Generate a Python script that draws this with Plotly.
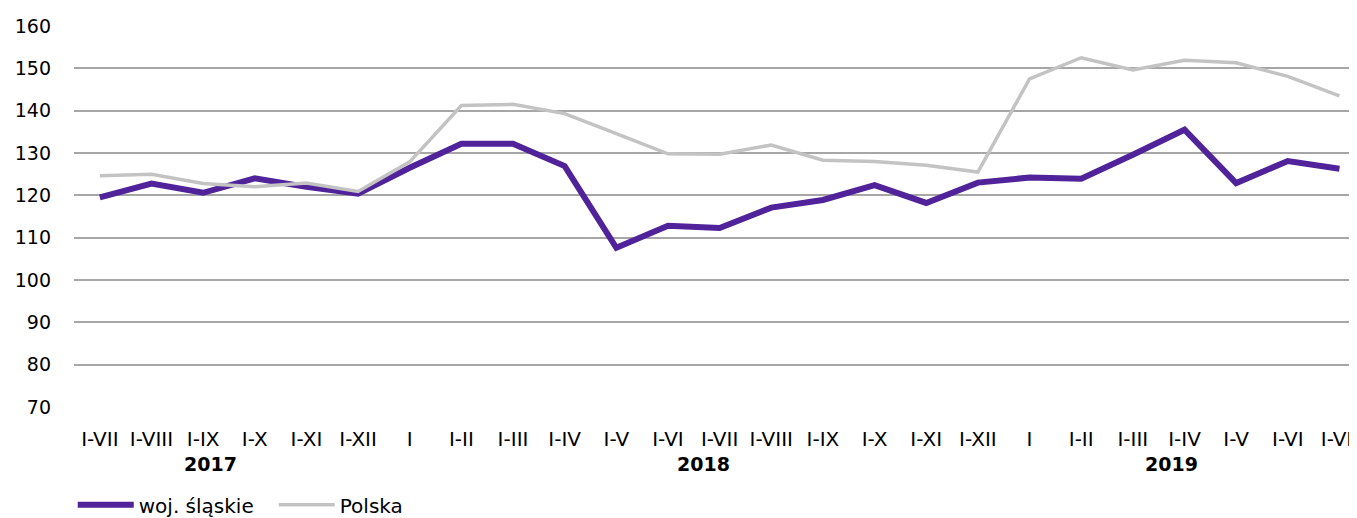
import plotly.graph_objects as go

periods = ["I-VII", "I-VIII", "I-IX", "I-X", "I-XI", "I-XII",
           "I", "I-II", "I-III", "I-IV", "I-V", "I-VI", "I-VII", "I-VIII", "I-IX", "I-X", "I-XI", "I-XII",
           "I", "I-II", "I-III", "I-IV", "I-V", "I-VI", "I-VII"]
years = ["2017"] * 6 + ["2018"] * 12 + ["2019"] * 7

slaskie = [119.5, 122.8, 120.6, 124.0, 122.0, 120.4,
           126.5, 132.2, 132.2, 126.9, 107.6, 112.8, 112.3, 117.1, 118.9, 122.4, 118.2, 123.0,
           124.2, 123.9, 129.6, 135.5, 122.9, 128.1, 126.3]
polska = [124.6, 125.0, 122.8, 122.0, 122.9, 120.9,
          127.9, 141.2, 141.5, 139.3, 134.6, 129.8, 129.7, 131.9, 128.3, 128.0, 127.1, 125.5,
          147.5, 152.5, 149.6, 151.9, 151.3, 148.1, 143.5]

x = list(range(len(periods)))
FONT = "DejaVu Sans, Open Sans, sans-serif"
# the page body adds an 8px offset; size the figure to fill the remaining window
W, H = 1349, 510
YEAR_SHIFT_PX = {"2017": -18, "2018": 10, "2019": -13}

fig = go.Figure()
fig.add_trace(go.Scatter(x=x, y=slaskie, mode="lines", name="woj. śląskie",
                         line=dict(color="#51239A", width=6)))
fig.add_trace(go.Scatter(x=x, y=polska, mode="lines", name="Polska",
                         line=dict(color="#C3C3C3", width=3.5)))

# year labels under their groups
for yr in ["2017", "2018", "2019"]:
    idx = [i for i, v in enumerate(years) if v == yr]
    fig.add_annotation(x=sum(idx) / len(idx), y=0, xref="x", yref="paper",
                       yanchor="middle", yshift=-57, xshift=YEAR_SHIFT_PX[yr],
                       text=f"<b>{yr}</b>", showarrow=False,
                       font=dict(size=19, color="#000000", family=FONT))

fig.update_layout(
    width=W, height=H,
    margin=dict(l=66, r=0, t=18, b=111, autoexpand=False),
    paper_bgcolor="white", plot_bgcolor="white",
    font=dict(family=FONT, size=19, color="#000000"),
    showlegend=True,
    legend=dict(orientation="h", xref="container", x=0.048, xanchor="left",
                yref="container", y=0.026, yanchor="middle",
                font=dict(size=20, family=FONT), itemwidth=56, entrywidth=130,
                traceorder="normal"),
)
fig.update_xaxes(range=[-0.5, 24.34], tickvals=x, ticktext=periods, tickangle=0,
                 tickfont=dict(size=20), ticklabeloverflow="allow",
                 showgrid=False, zeroline=False, showline=False, ticks="",
                 ticklabelstandoff=18, automargin=False, fixedrange=True)
fig.update_yaxes(range=[70, 160], dtick=10, tick0=70, showgrid=True,
                 tickfont=dict(size=19),
                 gridcolor="#A6A6A6", gridwidth=1.5, zeroline=False, showline=False,
                 ticks="", ticklabelstandoff=22, automargin=False)

fig.write_html("out.html")
